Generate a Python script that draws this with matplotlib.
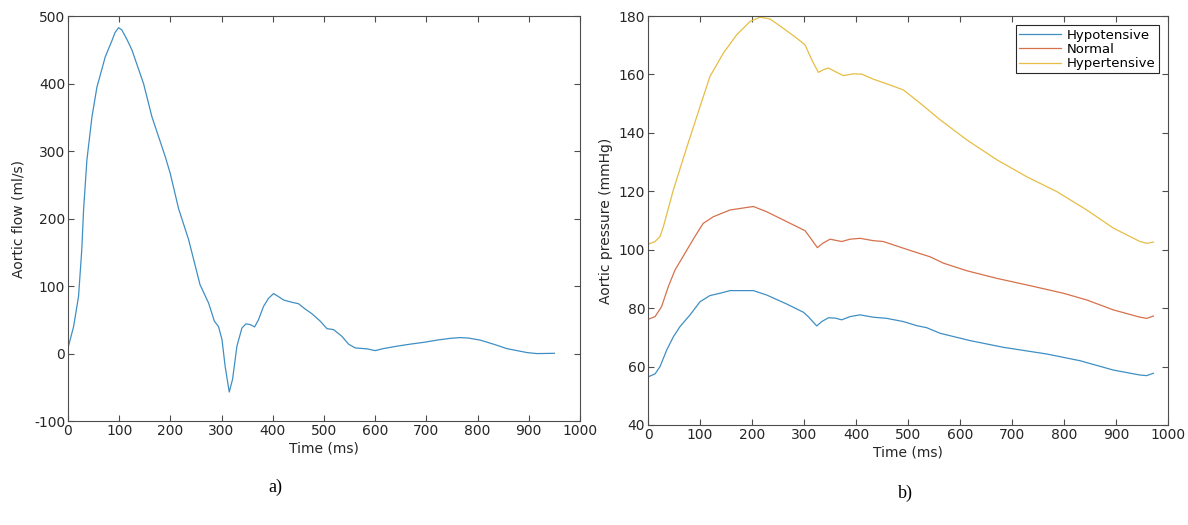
import matplotlib.pyplot as plt

# ---- a) aortic flow ----
flow_t = [0, 11, 20.7, 27, 30.5, 37, 46.9, 56.6, 72.9, 86, 92, 98.8, 105, 115, 125, 147.7, 164,
          190, 199.8, 216, 235.6, 258, 274.6, 286, 294, 300.8, 307, 315, 321.5, 330,
          339.8, 347.6, 356, 364.5, 372, 382, 391.8, 401.6, 410, 421, 437.5, 450,
          463.5, 476.6, 492.8, 505.8, 518.8, 535, 548, 561, 584, 600, 616, 642.6,
          668.6, 697.9, 720.7, 746.7, 766, 782.5, 805, 831, 857, 877, 896.5, 916, 950]
flow_v = [8, 40, 85, 154, 213, 287, 351, 395, 440, 464, 476, 483, 480, 466, 450, 400, 351,
          292, 267, 215, 169, 102, 75, 48, 40, 21, -19, -57, -38, 11,
          38, 44, 43, 39.5, 50, 70, 82, 89, 85, 79.5, 76, 74,
          66, 59, 48, 37, 35.5, 25.6, 14, 8.4, 7, 4.4, 7.4, 11,
          14, 17, 20, 22.6, 23.7, 23, 20, 14, 7.4, 4.4, 1.5, 0, 0.4]

# ---- b) aortic pressure ----
hypo_t = [0.6, 13.5, 23, 36, 48.7, 61.5, 80.8, 100, 119, 138.5, 157.7, 202.5, 228,
          266.7, 298.7, 308, 324.4, 334, 346.8, 359.6, 372.4, 388.5, 407.7, 433, 459,
          491, 516.7, 535.9, 561.5, 619, 683, 766.7, 830.8, 894.8, 946, 959, 971.8]
hypo_p = [56.5, 57.5, 60, 65.7, 70.2, 73.7, 77.7, 82.2, 84.3, 85.1, 86, 86, 84.5,
          81.4, 78.6, 77.1, 73.9, 75.4, 76.7, 76.6, 76, 77.1, 77.7, 76.9, 76.5,
          75.4, 74, 73.3, 71.4, 68.9, 66.6, 64.3, 62, 58.8, 57.1, 56.9, 57.7]

norm_t = [0.6, 13.5, 26, 39, 52, 71, 90, 106, 125.6, 157.7, 202.5, 228, 260, 302,
          314.8, 325.6, 336, 350, 372.4, 388.5, 407.7, 433, 452.5, 484.6, 510, 542,
          568, 613, 670.6, 734.6, 798.7, 843.6, 894.8, 946, 959, 971.8]
norm_p = [76.2, 77.1, 80.5, 87.4, 93.1, 98.8, 104.5, 109, 111.3, 113.6, 114.8, 113,
          110.2, 106.5, 103.4, 100.7, 102.2, 103.6, 102.8, 103.6, 103.9, 103.1, 102.8,
          100.9, 99.4, 97.6, 95.4, 92.8, 90.2, 87.7, 85.1, 82.8, 79.4, 76.9, 76.5, 77.3]

hyper_t = [0.6, 13.5, 23, 29.5, 48.7, 74.4, 100, 119, 144.8, 170.6, 196, 215, 234.6,
           260, 286, 302, 314.8, 327.6, 337, 346.8, 359.6, 375.6, 394.9, 411, 433,
           465, 491, 523, 561.5, 613, 670.6, 728, 786, 843.6, 894.8, 946, 959, 971.8]
hyper_p = [101.9, 102.8, 104.5, 107.9, 120.5, 135, 149, 159.3, 167.3, 173.6, 178.1,
           179.6, 179, 175.8, 172.4, 170.1, 165, 160.7, 161.6, 162.2, 161, 159.6,
           160.2, 160.1, 158.4, 156.4, 154.7, 150.2, 144.5, 137.6, 130.8, 125, 119.9,
           113.6, 107.4, 102.8, 102.2, 102.6]

labels = ["Hypotensive", "Normal", "Hypertensive"]
colors = ["#3f8fc4", "#d6714c", "#e6bd45"]

plt.rcParams['font.family'] = 'DejaVu Sans'
plt.rcParams['font.size'] = 10
plt.rcParams['axes.unicode_minus'] = False
axcol = '#4d4d4d'

fig = plt.figure(figsize=(11.88, 5.25), dpi=100)
ax1 = fig.add_axes([0.0572, 0.198, 0.431, 0.771])
ax2 = fig.add_axes([0.5455, 0.1905, 0.4377, 0.779])

def style(ax):
    for s in ax.spines.values():
        s.set_color(axcol)
        s.set_linewidth(0.8)
    ax.tick_params(direction='in', top=True, right=True, length=4,
                   color=axcol, labelcolor='#262626', labelsize=10, pad=2)
    ax.set_xlim(0, 1000)
    ax.set_xticks(range(0, 1001, 100))
    ax.set_xlabel("Time (ms)", color='#262626', labelpad=3)

ax1.plot(flow_t, flow_v, color=colors[0], lw=0.9)
ax1.set_ylim(-100, 500)
ax1.set_yticks(range(-100, 501, 100))
ax1.set_ylabel("Aortic flow (ml/s)", color='#262626', labelpad=6)
style(ax1)

ax2.plot(hypo_t, hypo_p, color=colors[0], lw=0.9, label=labels[0])
ax2.plot(norm_t, norm_p, color=colors[1], lw=0.9, label=labels[1])
ax2.plot(hyper_t, hyper_p, color=colors[2], lw=0.9, label=labels[2])
ax2.set_ylim(40, 180)
ax2.set_yticks(range(40, 181, 20))
ax2.set_ylabel("Aortic pressure (mmHg)", color='#262626', labelpad=4)
style(ax2)
leg = ax2.legend(loc='upper right', fontsize=9.5, fancybox=False, framealpha=1,
                 edgecolor='#262626', handlelength=3.2, handletextpad=0.4,
                 borderpad=0.25, labelspacing=0.1, borderaxespad=0.7)
leg.get_frame().set_linewidth(0.8)

fig.text(0.2315, 0.072, "a)", family='Liberation Serif', fontsize=13, ha='center', va='center')
fig.text(0.7618, 0.061, "b)", family='Liberation Serif', fontsize=13, ha='center', va='center')

fig.savefig("out.png", dpi=100)
